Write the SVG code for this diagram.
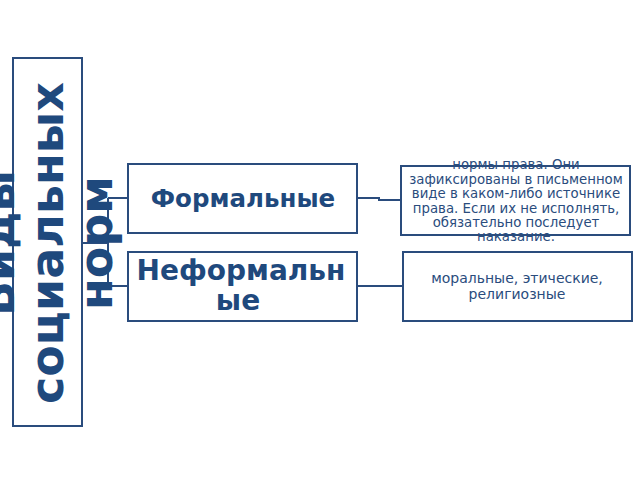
<svg xmlns="http://www.w3.org/2000/svg" width="640" height="480" viewBox="0 0 640 480">
<style>
.box{fill:#ffffff;stroke:#2A4C7D;stroke-width:2}
.con{fill:none;stroke:#2A4C7D;stroke-width:2}
.big{font-family:"DejaVu Sans",Verdana,sans-serif;font-weight:bold;fill:#1F497D}
.small{font-family:"DejaVu Sans",Verdana,sans-serif;font-size:13.3px;fill:#2A4C7D;text-anchor:middle}
</style>
<rect width="640" height="480" fill="#ffffff"/>
<g id="connectors">
<path class="con" d="M83,243 H108 M108,198 V286 M108,198 H128 M108,286 H128"/>
<path class="con" d="M357,198 H379 V200 H401"/>
<path class="con" d="M357,286 H403"/>
</g>
<g id="root">
<rect class="box" x="13" y="58" width="69" height="368"/>
<text class="big" font-size="46" text-anchor="middle" transform="translate(14,243) rotate(-90)">Виды</text>
<text class="big" font-size="46" text-anchor="middle" transform="translate(63,243) rotate(-90)">социальных</text>
<text class="big" font-size="46" text-anchor="middle" transform="translate(112,243) rotate(-90)">норм</text>
</g>
<g id="formal">
<rect class="box" x="128" y="164" width="229" height="69"/>
<text class="big" font-size="24.5" text-anchor="middle" x="243" y="207">Формальные</text>
</g>
<g id="informal">
<rect class="box" x="128" y="252" width="229" height="69"/>
<text class="big" font-size="28" text-anchor="middle" x="241" y="280">Неформальн</text>
<text class="big" font-size="28" text-anchor="middle" x="238" y="310">ые</text>
</g>
<g id="formal-desc">
<rect class="box" x="401" y="166" width="229" height="69"/>
<text class="small" x="516" y="169">нормы права. Они</text>
<text class="small" x="516" y="183.5">зафиксированы в письменном</text>
<text class="small" x="516" y="198">виде в каком-либо источнике</text>
<text class="small" x="516" y="212.5">права. Если их не исполнять,</text>
<text class="small" x="516" y="227">обязательно последует</text>
<text class="small" x="516" y="241">наказание.</text>
</g>
<g id="informal-desc">
<rect class="box" x="403" y="252" width="229" height="69"/>
<text class="small" font-size="14" x="517" y="283" style="font-size:14px">моральные, этические,</text>
<text class="small" x="517" y="299" style="font-size:14px">религиозные</text>
</g>
</svg>
